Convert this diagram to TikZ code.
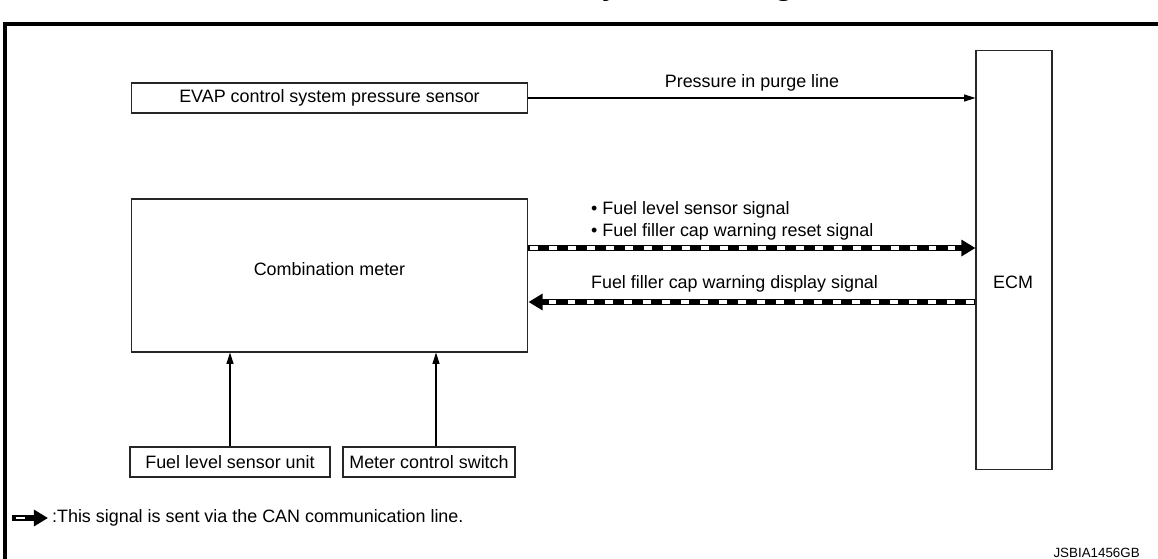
\documentclass[tikz,border=0pt]{standalone}
\usepackage{fontspec}
\setmainfont{Liberation Sans}
\usetikzlibrary{arrows.meta,positioning}

\begin{document}
\begin{tikzpicture}[
  x=0.02cm, y=-0.02cm,
  font=\fontsize{10.2}{12.4}\selectfont,
  unit/.style={draw=black!85, line width=0.6pt, inner sep=0pt, minimum height=0.6cm, minimum width=#1},
  sig/.style={line width=0.6pt, -{Triangle[length=6.5pt, width=4pt]}},
  canbase/.style={line width=3.4pt, -{Triangle[length=8pt, width=9pt]}},
  can/.style={canbase,
    postaction={draw=white, line width=1.8pt, dash pattern=on 4.4pt off 6.4pt, shorten >=9pt, shorten <=1pt, -}},
  cankey/.style={canbase, line width=3pt,
    postaction={draw=white, line width=1.6pt, dash pattern=on 5.5pt off 30pt, shorten <=2pt, -}},
  lab/.style={inner sep=1pt}
]
\useasboundingbox (0,0) rectangle (1158,558);
\clip (0,0) rectangle (1158,558);
% frame and (cut) title
\draw[line width=2pt] (5,600) -- (5,24) -- (1200,24);
\node[font=\fontsize{22}{26}\selectfont, anchor=base west, inner sep=0pt] (title) at (576,-7) {System Diagram};
% units
\node[unit=7.94cm] (evap) at (329.5,98) {EVAP control system pressure sensor};
\node[unit=7.94cm, minimum height=3.06cm] (comb) at (329.5,275.5) {};
\node (comblbl) at (329.5,269) {Combination meter};
\node[unit=1.52cm, minimum height=8.4cm] (ecm) at (1014,260) {};
\node (ecmlbl) at (1013,282) {ECM};
\node[unit=4cm] (fuelunit) at (230,462) {Fuel level sensor unit};
\node[unit=3.44cm] (meterswitch) at (429,462) {Meter control switch};
% signal lines
\draw[sig] (evap.east) -- (evap.east -| ecm.west) node[midway, above] (pressurelbl) {Pressure in purge line};
\coordinate (canin) at ([yshift=0.55cm]comb.east);
\coordinate (canout) at ([yshift=-0.53cm]comb.east);
\draw[can] (canin) -- (canin -| ecm.west);
\draw[can] (canout -| ecm.west) -- (canout);
\node[lab, anchor=west, align=left] (inlbl) at (589,221) {\textbullet\ Fuel level sensor signal\\\textbullet\ Fuel filler cap warning reset signal};
\node[lab, anchor=west] (outlbl) at (589,284) {Fuel filler cap warning display signal};
\coordinate (fuelin) at (fuelunit.north);
\coordinate (switchin) at ([xshift=0.14cm]meterswitch.north);
\draw[sig] (fuelin) -- (fuelin |- comb.south);
\draw[sig] (switchin) -- (switchin |- comb.south);
% legend
\coordinate (keyfrom) at (12,518);
\coordinate (keyto) at (48,518);
\draw[cankey] (keyfrom) -- (keyto);
\node[lab, anchor=west] (keylbl) at (50,518) {:This signal is sent via the CAN communication line.};
\node[font=\fontsize{7.6}{9}\selectfont, anchor=base east, inner sep=0pt] (figid) at (1140,557) {JSBIA1456GB};
\end{tikzpicture}
\end{document}
